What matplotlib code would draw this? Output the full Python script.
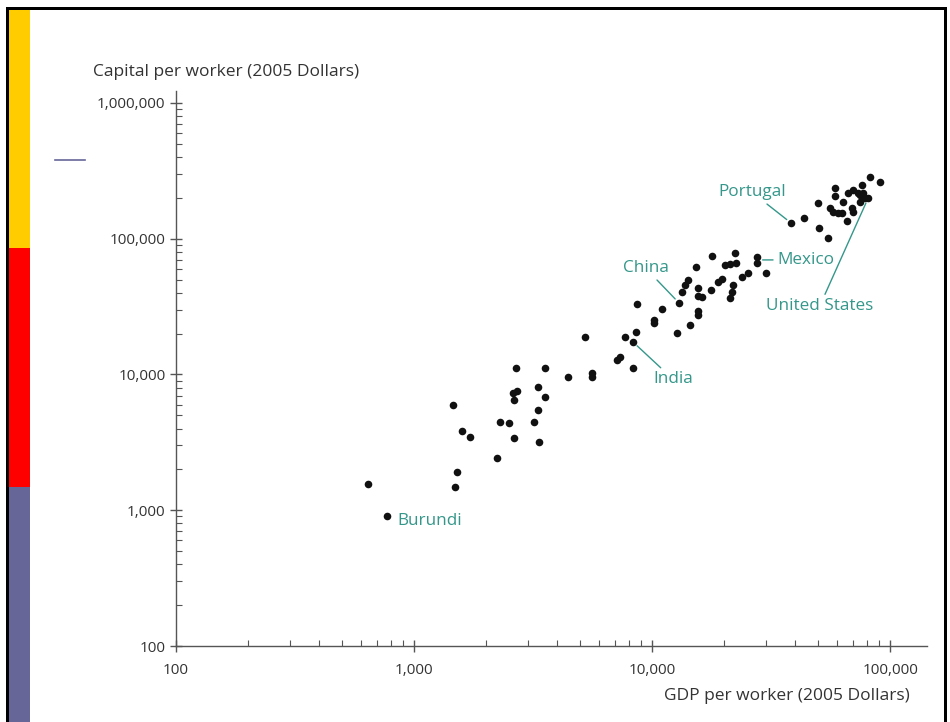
import matplotlib
matplotlib.use("Agg")
import matplotlib.pyplot as plt
from matplotlib.ticker import LogLocator, FixedLocator, NullFormatter, FuncFormatter
from matplotlib.patches import Rectangle
from matplotlib.lines import Line2D

plt.rcParams['font.family'] = ['Open Sans', 'DejaVu Sans']

# GDP per worker (x) and capital per worker (y), 2005 dollars
gdp = [641, 770, 1459, 1516, 1486, 1592, 1719, 2233, 2297, 2506, 2630, 2683, 2606, 2710,
       2630, 3193, 3350, 3319, 3319, 3548, 3548, 4436, 5228, 5598, 5598, 7129, 7345, 8318,
       7709, 8318, 8570, 8650, 10190, 10190, 11020, 12740, 12980, 14450, 13360, 13770,
       14170, 15310, 15610, 15610, 16220, 15610, 15610, 17700, 19000, 19700, 17870, 20260,
       21270, 22540, 22330, 21880, 21680, 21270, 23880, 25300, 27620, 27620, 30130,
       38370, 43510, 49810, 50330, 54860, 58750, 58750, 55980, 57640, 60530, 62850,
       63500, 66630, 69920, 69220, 69920, 65950, 73400, 74820, 77050, 76250, 74820,
       78520, 80910, 82410, 90780]
capital = [1560, 908, 5960, 1914, 1483, 3837, 3467, 2426, 4467, 4395, 3405, 11170, 7310, 7552,
           6487, 4467, 3184, 5474, 8091, 11170, 6823, 9594, 18880, 10200, 9600, 12790, 13460,
           11170, 18880, 17350, 20560, 33040, 25190, 23950, 30400, 20230, 33640, 23170,
           40520, 45620, 49660, 61940, 43350, 37840, 37240, 29370, 27420, 41900, 48000,
           50500, 74640, 64090, 65170, 66250, 78520, 45620, 40520, 36640, 52280, 55940,
           73400, 66250, 55940, 130600, 142200, 183400, 120000, 101300, 236600, 206500,
           168600, 157400, 154800, 154800, 186600, 217300, 228600, 168600, 157400, 135200,
           217300, 210000, 217300, 248900, 186600, 199500, 199500, 285100, 261800]

# labelled countries
countries = ["Burundi", "India", "China", "Mexico", "Portugal", "United States"]
country_gdp = [770, 8318, 12980, 27620, 38370, 80910]
country_cap = [908, 17350, 33640, 69800, 130600, 199500]

x_ticks = [100, 1000, 10000, 100000]
y_ticks = [100, 1000, 10000, 100000, 1000000]

TEAL = '#34978a'
GREY = '#555555'
TXT = '#333333'

fig = plt.figure(figsize=(9.5, 7.22), dpi=100)

# --- slide decorations -------------------------------------------------
W, H = 950.0, 722.0
def rect(x0, y0, x1, y1, color):
    fig.patches.append(Rectangle((x0 / W, 1 - y1 / H), (x1 - x0) / W, (y1 - y0) / H,
                                 transform=fig.transFigure, color=color, zorder=0, lw=0))
rect(6, 7, 947, 10, 'black')
rect(6, 7, 8.5, 722, 'black')
rect(944, 7, 947, 722, 'black')
rect(8.5, 10, 30, 248, '#FFCC00')
rect(8.5, 248, 30, 487, '#FF0000')
rect(8.5, 487, 30, 722, '#666699')
fig.lines.append(Line2D([55 / W, 85 / W], [1 - 160 / H, 1 - 160 / H],
                        transform=fig.transFigure, color='#666699', lw=1.2))

# --- chart ---------------------------------------------------------------
ax = fig.add_axes([176 / W, 1 - 646 / H, (927 - 176) / W, (646 - 91) / H])
ax.set_xscale('log')
ax.set_yscale('log')
ax.set_xlim(100, 142900)
ax.set_ylim(100, 1.225e6)

ax.scatter(gdp, capital, s=30, color='#111111', zorder=3, linewidths=0)

for sp in ['top', 'right']:
    ax.spines[sp].set_visible(False)
for sp in ['left', 'bottom']:
    ax.spines[sp].set_color(GREY)
    ax.spines[sp].set_linewidth(1.0)

fmt = FuncFormatter(lambda v, p: f"{int(round(v)):,}")
ax.xaxis.set_major_locator(FixedLocator(x_ticks))
ax.yaxis.set_major_locator(FixedLocator(y_ticks))
ax.xaxis.set_major_formatter(fmt)
ax.yaxis.set_major_formatter(fmt)
ax.xaxis.set_minor_locator(LogLocator(base=10, subs=range(2, 10)))
ax.yaxis.set_minor_locator(LogLocator(base=10, subs=range(2, 10)))
ax.xaxis.set_minor_formatter(NullFormatter())
ax.yaxis.set_minor_formatter(NullFormatter())
ax.tick_params(which='major', direction='inout', length=9, width=1, color=GREY,
               labelsize=11, labelcolor=TXT)
ax.tick_params(which='minor', direction='in', length=4.5, width=0.8, color=GREY)
ax.tick_params(axis='x', which='major', pad=8)
ax.tick_params(axis='y', which='major', pad=3)

fig.text(93 / W, 1 - 72 / H, "Capital per worker (2005 Dollars)", fontsize=12.5,
         color=TXT, ha='left', va='center')
fig.text(910 / W, 1 - 696 / H, "GDP per worker (2005 Dollars)", fontsize=12.5,
         color=TXT, ha='right', va='center')

offsets = {
    "Burundi": ((31, -4), False),
    "India": ((29, -27), True),
    "China": ((-24, 25), True),
    "Mexico": ((35, 0), True),
    "Portugal": ((-28, 22), True),
    "United States": ((-35, -78), True),
}
for name, gx, cy in zip(countries, country_gdp, country_cap):
    off, line = offsets[name]
    props = dict(arrowstyle='-', color=TEAL, lw=1.0, shrinkA=1, shrinkB=4) if line else None
    ax.annotate(name, xy=(gx, cy), xytext=off, textcoords='offset points',
                ha='center', va='center', fontsize=12.3, color=TEAL,
                arrowprops=props, zorder=4)

fig.savefig('out.png', dpi=100, facecolor='white')
